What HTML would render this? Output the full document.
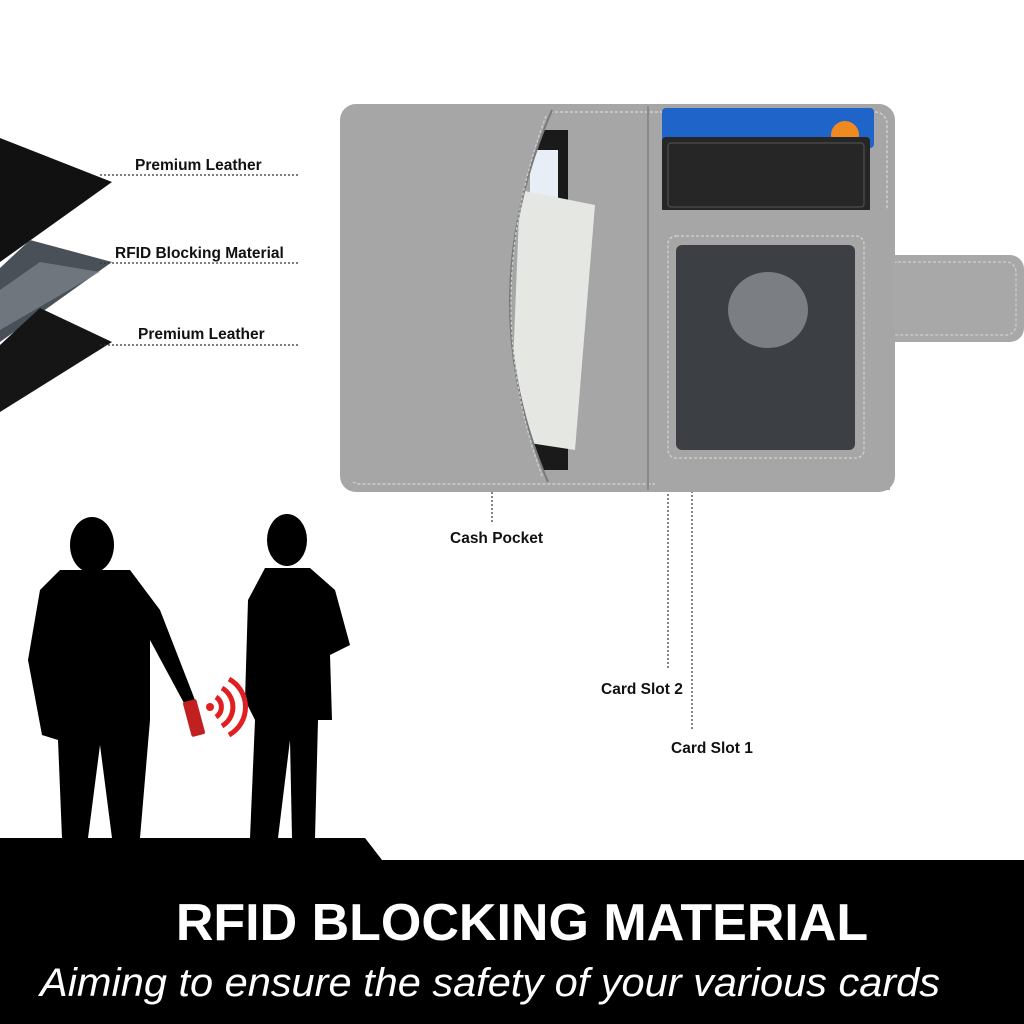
<!DOCTYPE html>
<html><head><meta charset="utf-8"><style>
html,body{margin:0;padding:0;background:#fff;}
svg{display:block}
text{font-family:"Liberation Sans",sans-serif;}
</style></head><body>
<svg width="1024" height="1024" viewBox="0 0 1024 1024" xmlns="http://www.w3.org/2000/svg">
<rect width="1024" height="1024" fill="#fff"/>
<!-- leather layers -->
<polygon points="0,138 112,182 0,262" fill="#111"/>
<polygon points="0,268 30,240 112,262 0,342" fill="#4a5058"/>
<polygon points="0,290 40,262 100,272 0,330" fill="#8a8f96" opacity="0.6"/>
<polygon points="0,345 40,308 112,342 0,412" fill="#151515"/>
<!-- labels -->
<g font-size="15.5" font-weight="bold" fill="#111">
<text x="135" y="170">Premium Leather</text>
<text x="115" y="258">RFID Blocking Material</text>
<text x="138" y="339">Premium Leather</text>
<text x="450" y="543">Cash Pocket</text>
<text x="601" y="694">Card Slot 2</text>
<text x="671" y="753">Card Slot 1</text>
</g>
<g stroke="#333" stroke-width="1.2" stroke-dasharray="2,2" fill="none">
<line x1="100" y1="175" x2="298" y2="175"/>
<line x1="100" y1="263" x2="298" y2="263"/>
<line x1="100" y1="345" x2="298" y2="345"/>
<line x1="492" y1="240" x2="492" y2="522"/>
<line x1="668" y1="210" x2="668" y2="668"/>
<line x1="692" y1="235" x2="692" y2="730"/>
</g>
<!-- wallet -->
<rect x="880" y="255" width="144" height="87" rx="14" fill="#a8a8a8"/>
<rect x="888" y="262" width="128" height="73" rx="10" fill="none" stroke="#d0d0d0" stroke-width="1.2" stroke-dasharray="3,2"/>
<rect x="340" y="104" width="555" height="388" rx="16" fill="#a6a6a6"/>
<rect x="348" y="112" width="539" height="372" rx="12" fill="none" stroke="#cfcfcf" stroke-width="1.5" stroke-dasharray="3,2"/>
<line x1="648" y1="106" x2="648" y2="490" stroke="#8a8a8a" stroke-width="2"/>
<!-- left pocket contents -->
<rect x="530" y="130" width="38" height="340" fill="#1a1a1a"/>
<rect x="530" y="150" width="28" height="50" fill="#e8eef5"/>
<polygon points="520,190 595,205 575,450 510,440" fill="#e5e7e2"/>
<path d="M552,110 Q470,300 548,482 L345,482 L345,110 Z" fill="#a6a6a6"/>
<path d="M552,110 Q470,300 548,482" fill="none" stroke="#7a7a7a" stroke-width="2"/>
<path d="M546,116 Q478,300 542,476" fill="none" stroke="#d0d0d0" stroke-width="1.2" stroke-dasharray="3,2"/>
<!-- cards -->
<rect x="662" y="108" width="212" height="40" rx="4" fill="#1f64c8"/>
<circle cx="845" cy="135" r="14" fill="#f08a20"/>
<rect x="662" y="137" width="208" height="76" rx="4" fill="#262626"/>
<rect x="668" y="143" width="196" height="64" rx="3" fill="none" stroke="#555" stroke-width="1"/>
<rect x="655" y="210" width="235" height="280" fill="#a6a6a6"/>
<rect x="668" y="236" width="196" height="222" rx="8" fill="none" stroke="#ccc" stroke-width="1.5" stroke-dasharray="3,2"/>
<rect x="676" y="245" width="179" height="205" rx="6" fill="#3c3f44"/>
<ellipse cx="768" cy="310" rx="40" ry="38" fill="#7b7e82"/>
<!-- people silhouettes -->
<g fill="#000">
<ellipse cx="92" cy="545" rx="22" ry="28"/>
<path d="M60,570 L130,570 L160,610 L195,700 L185,705 L150,640 L150,720 L140,838 L112,838 L100,745 L88,838 L62,838 L58,740 L42,735 L28,660 L40,590 Z"/>
<ellipse cx="287" cy="540" rx="20" ry="26"/>
<path d="M265,568 L310,568 L335,590 L350,645 L330,655 L332,720 L318,720 L315,838 L292,838 L290,740 L278,838 L250,838 L255,720 L245,700 L248,600 Z"/>
</g>
<rect x="187" y="700" width="14" height="36" rx="2" fill="#c02020" transform="rotate(-15 194 718)"/>
<g fill="none" stroke="#e02020" stroke-width="5">
<circle cx="210" cy="707" r="4" fill="#e02020" stroke="none"/>
<path d="M216,697 A12,12 0 0 1 216,717"/>
<path d="M222,688 A22,22 0 0 1 222,726"/>
<path d="M229,679 A32,32 0 0 1 229,735"/>
</g>
<!-- bottom band -->
<path d="M0,838 L365,838 L382,860 L1024,860 L1024,1024 L0,1024 Z" fill="#000"/>
<text x="522" y="940" text-anchor="middle" font-size="52" font-weight="bold" fill="#fff">RFID BLOCKING MATERIAL</text>
<text x="40" y="996" font-size="40" font-style="italic" fill="#fff" textLength="900" lengthAdjust="spacingAndGlyphs">Aiming to ensure the safety of your various cards</text>
</svg>
</body></html>
